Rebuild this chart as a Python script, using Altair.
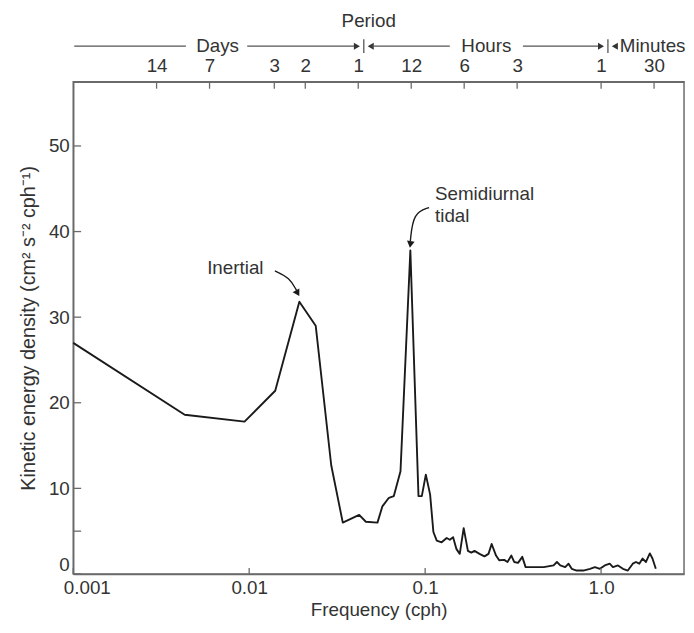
import altair as alt
import pandas as pd

# ---- spectrum (frequency in cph, kinetic energy density) ----
freq = [0.001, 0.00430, 0.00941, 0.01406, 0.01928, 0.02388, 0.02926, 0.03404,
        0.04217, 0.04603, 0.05358, 0.05715, 0.06223, 0.06637, 0.07244, 0.08241,
        0.09165, 0.09575, 0.1009, 0.1067, 0.1114, 0.1164, 0.1241, 0.1325,
        0.1381, 0.1442, 0.1507, 0.1573, 0.1656, 0.1750, 0.1829, 0.1908,
        0.2037, 0.2173, 0.2291, 0.2388, 0.2529, 0.2636, 0.2813, 0.2938,
        0.3090, 0.3206, 0.3373, 0.3565, 0.3724, 0.4150, 0.4721, 0.5370,
        0.5610, 0.5861, 0.6252, 0.6531, 0.6808, 0.7261, 0.7925, 0.8650,
        0.9226, 0.9840, 1.0495, 1.1194, 1.1675, 1.2474, 1.3305, 1.4191,
        1.5136, 1.5786, 1.6478, 1.7219, 1.7989, 1.8923, 1.9588, 2.0464]
energy = [27.0, 18.6, 17.8, 21.4, 31.8, 29.0, 12.7, 6.0,
          6.9, 6.1, 6.0, 7.9, 8.9, 9.1, 12.0, 37.8,
          9.1, 9.1, 11.6, 9.3, 4.9, 3.9, 3.7, 4.2,
          4.0, 4.3, 2.9, 2.35, 5.35, 2.7, 2.5, 2.7,
          2.35, 2.05, 2.35, 3.5, 2.15, 1.6, 1.65, 1.4,
          2.15, 1.4, 1.3, 2.0, 0.8, 0.8, 0.8, 1.0,
          1.4, 1.0, 0.8, 1.2, 0.6, 0.4, 0.4, 0.6,
          0.8, 0.6, 1.0, 1.2, 0.8, 1.0, 0.6, 0.4,
          1.2, 1.4, 1.2, 1.8, 1.4, 2.4, 1.8, 0.6]

# ---- axes ----
bottom_ticks = [0.001, 0.01, 0.1, 1.0]
y_ticks = [0, 5, 10, 20, 30, 40, 50]
top_period_hours = [336, 168, 72, 48, 24, 12, 6, 3, 1, 0.5]   # 14,7,3,2,1 d; 12,6,3,1 h; 30 min
top_freqs = [1.0 / p for p in top_period_hours]

# ---- annotations ----
inertial_text = ["Inertial"]
inertial_pos = [(0.00834, 35.7)]
semi_text = ["Semidiurnal", "tidal"]
semi_pos = [(0.1138, 44.4), (0.1138, 41.8)]
inertial_arrow_f = [0.0140, 0.0170, 0.01861]
inertial_arrow_e = [35.4, 34.6, 33.1]
inertial_head = (0.01885, 32.8)
semi_arrow_f = [0.1053, 0.0856, 0.0824]
semi_arrow_e = [42.8, 42.2, 38.9]
semi_head = (0.0824, 38.5)

W, H = 618, 498
FONT = "Liberation Sans"
FS = 19
FT = 19
TXT = "#333333"
AX = "#6a6a6a"
LINE = "#1a1a1a"

x_scale = alt.Scale(type="log", domain=[0.001, 2.96], nice=False)
y_scale = alt.Scale(domain=[0, 57.5], nice=False)

spec_df = pd.DataFrame({"freq": freq, "energy": energy})
one = pd.DataFrame({"k": [0]})

spectrum = alt.Chart(spec_df).mark_line(color=LINE, strokeWidth=1.9, strokeJoin="round").encode(
    x=alt.X("freq:Q", scale=x_scale,
            axis=alt.Axis(orient="bottom", values=bottom_ticks, tickSize=0, grid=False,
                          labelExpr="datum.value >= 1 ? format(datum.value, '.1f') : format(datum.value, '~g')",
                          title="Frequency (cph)", labelPadding=5, titlePadding=3,
                          labelFlush=True, labelFlushOffset=10,
                          domainColor=AX, domainWidth=1.5)),
    y=alt.Y("energy:Q", scale=y_scale,
            axis=alt.Axis(values=y_ticks, tickSize=0, grid=False,
                          labelExpr="datum.value == 5 ? '' : datum.label",
                          labelFlush=True,
                          title="Kinetic energy density (cm² s⁻² cph⁻¹)", titleFontSize=20,
                          labelPadding=4, titlePadding=10, domainColor=AX, domainWidth=1.5)),
)

top_axis = alt.Chart(pd.DataFrame({"f": top_freqs})).mark_rule(color=AX, strokeWidth=1.3).encode(
    x=alt.X("f:Q", scale=x_scale,
            axis=alt.Axis(orient="top", values=top_freqs, tickSize=0, grid=False, title=None,
                          labelExpr="1/datum.value >= 23 ? format(round(1/datum.value/24), 'd') : "
                                    "(1/datum.value >= 0.99 ? format(round(1/datum.value), 'd') : "
                                    "format(round(60/datum.value), 'd'))",
                          labelPadding=6, domainColor=AX, domainWidth=1.5)),
    y=alt.value(0), y2=alt.value(7),
)

bottom_tick_marks = alt.Chart(pd.DataFrame({"f": bottom_ticks})).mark_rule(color=AX, strokeWidth=1.3).encode(
    x=alt.X("f:Q", scale=x_scale, axis=None),
    y=alt.value(H), y2=alt.value(H - 6),
)
y_tick_marks = alt.Chart(pd.DataFrame({"v": y_ticks})).mark_rule(color=AX, strokeWidth=1.3).encode(
    y=alt.Y("v:Q", scale=y_scale, axis=None),
    x=alt.value(0), x2=alt.value(8),
)

def txt(text, f, e, align="center"):
    return alt.Chart(pd.DataFrame({"f": [f], "e": [e], "t": [text]})).mark_text(
        font=FONT, fontSize=FS, color=TXT, align=align, baseline="middle").encode(
        x=alt.X("f:Q", scale=x_scale, axis=None),
        y=alt.Y("e:Q", scale=y_scale, axis=None),
        text="t:N")

ann = []
for t, (f, e) in zip(inertial_text, inertial_pos):
    ann.append(txt(t, f, e))
for t, (f, e) in zip(semi_text, semi_pos):
    ann.append(txt(t, f, e, align="left"))

def curve(fs, es):
    return alt.Chart(pd.DataFrame({"f": fs, "e": es, "o": list(range(len(fs)))})).mark_line(
        color=LINE, strokeWidth=1.4, interpolate="basis").encode(
        x=alt.X("f:Q", scale=x_scale, axis=None),
        y=alt.Y("e:Q", scale=y_scale, axis=None),
        order="o:O")

def head(f, e, angle):
    return alt.Chart(pd.DataFrame({"f": [f], "e": [e]})).mark_point(
        shape="triangle-down", filled=True, color=LINE, size=60, angle=angle, opacity=1).encode(
        x=alt.X("f:Q", scale=x_scale, axis=None),
        y=alt.Y("e:Q", scale=y_scale, axis=None))

ann += [curve(inertial_arrow_f, inertial_arrow_e), head(*inertial_head, 330),
        curve(semi_arrow_f, semi_arrow_e), head(*semi_head, 8)]

# ---- header (Period / Days / Hours / Minutes) : decoration in pixels ----
YL = -36
hdr = []
def hrule(x1, x2, y):
    return alt.Chart(one).mark_rule(color="#555555", strokeWidth=1.3).encode(
        x=alt.value(x1), x2=alt.value(x2), y=alt.value(y))
def vrule(x, y1, y2):
    return alt.Chart(one).mark_rule(color="#555555", strokeWidth=1.3).encode(
        x=alt.value(x), y=alt.value(y1), y2=alt.value(y2))
def htext(t, x, y, align="center"):
    return alt.Chart(one).mark_text(font=FONT, fontSize=FS, color=TXT, align=align,
                                    baseline="middle", text=t).encode(x=alt.value(x), y=alt.value(y))
def arrowhead(x, y, shape):
    return alt.Chart(one).mark_point(shape=shape, filled=True, color="#333333", size=50,
                                     opacity=1).encode(x=alt.value(x), y=alt.value(y))

hdr += [htext("Period", 299, -61),
        hrule(1, 114, YL), htext("Days", 146, YL), hrule(176, 286, YL),
        arrowhead(287, YL, "triangle-right"), vrule(294, YL - 7, YL + 7),
        arrowhead(301, YL, "triangle-left"), hrule(302, 381, YL),
        htext("Hours", 418, YL), hrule(455, 533, YL),
        arrowhead(534, YL, "triangle-right"), vrule(541, YL - 7, YL + 7),
        arrowhead(548, YL, "triangle-left"), htext("Minutes", 553, YL, align="left")]

chart = alt.layer(spectrum, top_axis, bottom_tick_marks, y_tick_marks, *ann, *hdr).resolve_axis(
    x="independent", y="independent"
).properties(
    width=W, height=H,
    autosize=alt.AutoSizeParams(type="none"),
    padding={"left": 66, "top": 71, "right": 2, "bottom": 48},
).configure_view(stroke=AX, strokeWidth=1.5).configure_axis(
    labelFont=FONT, labelFontSize=FS, labelColor=TXT, titleFont=FONT, titleFontSize=FT,
    titleColor=TXT, titleFontWeight="normal", labelOverlap=False,
)

chart.save("out.html", embed_options={"renderer": "svg", "actions": False})
